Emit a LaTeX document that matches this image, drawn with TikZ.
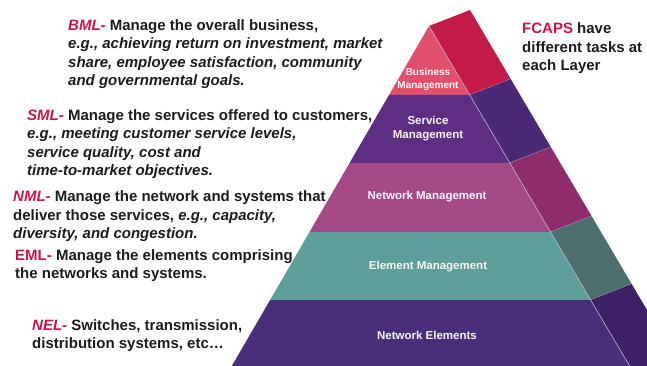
\documentclass[tikz,border=0pt]{standalone}
\usepackage{fontspec}
\setmainfont{Liberation Sans}
\usetikzlibrary{calc}
\usetikzlibrary{positioning}

\definecolor{tagred}{HTML}{CC1446}
\definecolor{textgray}{HTML}{1C1C1C}
\definecolor{bmfront}{HTML}{E04F6C}
\definecolor{bmside}{HTML}{C31A48}
\definecolor{smfront}{HTML}{5D2E82}
\definecolor{smside}{HTML}{4A2A76}
\definecolor{nmfront}{HTML}{A54886}
\definecolor{nmside}{HTML}{8E2C6E}
\definecolor{emfront}{HTML}{5E9E9B}
\definecolor{emside}{HTML}{4D706F}
\definecolor{nefront}{HTML}{4A2E7A}
\definecolor{neside}{HTML}{3D2066}
\definecolor{edgegray}{HTML}{C9C2D2}

\newcommand{\tagtxt}[1]{\textcolor{tagred}{#1}}

\tikzset{
    layertext/.style={anchor=base west,inner sep=0pt,align=left,text=textgray,
        font=\fontsize{15}{18.3}\selectfont\bfseries},
    layerlabel/.style={inner sep=0pt,align=center,text=white!94!gray,
        font=\fontsize{11.5}{14}\selectfont\bfseries},
    bandline/.style={draw=edgegray,line width=0.5pt}
}

\begin{document}
\begin{tikzpicture}[x=1pt,y=-1pt]
        \useasboundingbox (0,0) rectangle (647,366);
        % Pyramid: front face and side face, one band at a time
        \begin{scope}
            \clip (0,0) rectangle (647,366);
            \foreach \ya/\yb/\cf/\cs in {26/95/bmfront/bmside,95/163/smfront/smside,
                163/232/nmfront/nmside,232/300/emfront/emside,300/372/nefront/neside}
            {
                \fill [\cf] ({429-0.58*(\ya-26)},\ya) -- ({429+0.59*(\ya-26)},\ya)
                    -- ({429+0.59*(\yb-26)},\yb) -- ({429-0.58*(\yb-26)},\yb) -- cycle;
                \fill [\cs] ({429+0.59*(\ya-26)},\ya) -- ++(41,-16)
                    -- ({470+0.59*(\yb-26)},{\yb-16}) -- ({429+0.59*(\yb-26)},\yb) -- cycle;
                \draw [bandline] ({429+0.59*(\yb-26)},\yb) -- ++(41,-16);
                \draw [bandline,draw opacity=0.6] ({429-0.58*(\yb-26)},\yb)
                    -- ({429+0.59*(\yb-26)},\yb);
            }
            \draw [bandline] (429,26) -- ({429+0.59*346},372);
        \end{scope}

        % Layer names on the front face
        \node [layerlabel,font=\fontsize{10}{13}\selectfont\bfseries] (bm) at (428,79.5)
            {Business\\Management};
        \node [layerlabel] (sm) at (428,129) {Service\\Management};
        \node [layerlabel] (nm) at (427,197) {Network Management};
        \node [layerlabel] (em) at (428,267) {Element Management};
        \node [layerlabel] (ne) at (427,335) {Network Elements};

        % Descriptions (placed by the baseline of their last line)
        \node [layertext] (bml) at (68,85.5)
            {\tagtxt{\itshape BML-} Manage the overall business,\\
            \itshape e.g., achieving return on investment, market\\
            \itshape share, employee satisfaction, community\\
            \itshape and governmental goals.};
        \node [layertext] (sml) at (27,175.5)
            {\tagtxt{\itshape SML-} Manage the services offered to customers,\\
            \itshape e.g., meeting customer service levels,\\
            \itshape service quality, cost and\\
            \itshape time-to-market objectives.};
        \node [layertext] (nml) at (13,238.5)
            {\tagtxt{\itshape NML-} Manage the network and systems that\\
            deliver those services, \itshape e.g., capacity,\\
            \itshape diversity, and congestion.};
        \node [layertext] (eml) at (15,278.5)
            {\tagtxt{EML-} Manage the elements comprising\\
            the networks and systems.};
        \node [layertext] (nel) at (32,348.5)
            {\tagtxt{\itshape NEL-} Switches, transmission,\\
            distribution systems, etc\dots};
        \node [layertext] (fcaps) at (522,70.5)
            {\tagtxt{FCAPS} have\\different tasks at\\each Layer};
\end{tikzpicture}
\end{document}
